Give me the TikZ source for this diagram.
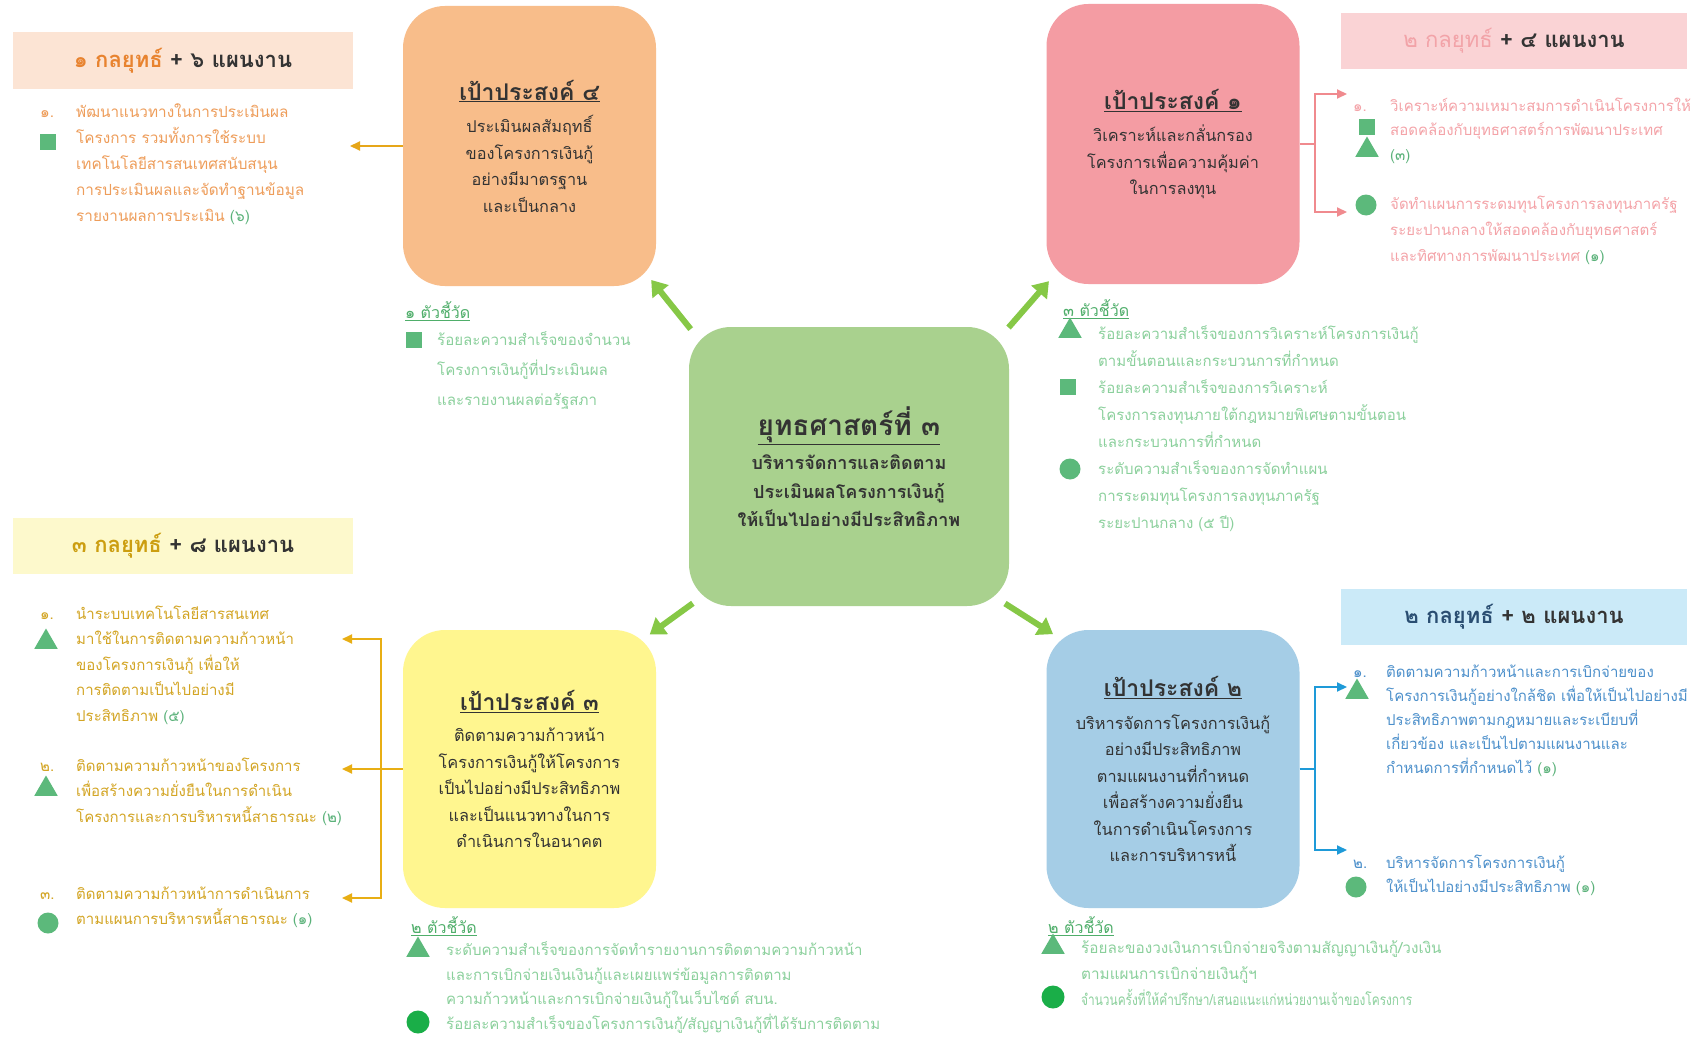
\documentclass[tikz,border=0pt]{standalone}
\usepackage{fontspec}
\setmainfont[Script=Thai]{Loma}
\usetikzlibrary{arrows.meta,shapes.geometric}
\newcommand{\fsz}[2]{\fontsize{#1}{#2}\selectfont}
\newcommand{\gtitle}[1]{{\bfseries\fsz{23}{26}\underline{#1}}}
\definecolor{boxO}{HTML}{F8BD8A}
\definecolor{boxG}{HTML}{A9D18E}
\definecolor{boxP}{HTML}{F49CA3}
\definecolor{boxY}{HTML}{FFF68F}
\definecolor{boxB}{HTML}{A5CDE6}
\definecolor{bandO}{HTML}{FCE4D4}
\definecolor{bandP}{HTML}{FAD3D5}
\definecolor{bandY}{HTML}{FDF9CC}
\definecolor{bandB}{HTML}{CBEAF8}
\definecolor{txtD}{HTML}{333333}
\definecolor{hO}{HTML}{E8832F}
\definecolor{hP}{HTML}{F2A3A8}
\definecolor{hY}{HTML}{CC9E10}
\definecolor{hB}{HTML}{2A4E72}
\definecolor{lO}{HTML}{EE9D5A}
\definecolor{lP}{HTML}{F4A3A8}
\definecolor{lY}{HTML}{D3A524}
\definecolor{lB}{HTML}{4D90CB}
\definecolor{lG}{HTML}{8BD09C}
\definecolor{iG}{HTML}{4FAE6A}
\definecolor{numG}{HTML}{5BB27A}
\definecolor{shpG}{HTML}{5CB97B}
\definecolor{brG}{HTML}{1AAE48}
\definecolor{arrG}{HTML}{86C846}
\definecolor{cO}{HTML}{E6A619}
\definecolor{cY}{HTML}{E8AE14}
\definecolor{cP}{HTML}{F08A8E}
\definecolor{cB}{HTML}{1E9AD8}
\begin{document}
\begin{tikzpicture}[x=1pt,y=-1pt,
  goal/.style={rounded corners=42pt, minimum width=253pt, minimum height=280pt, align=center, text=txtD, font=\fsz{16.3}{26.5}, inner sep=0pt},
  band/.style={minimum width=340pt, minimum height=57pt, inner sep=0pt, font=\bfseries\fsz{22}{26}, text=txtD},
  lst/.style={anchor=north west, inner sep=0pt, align=left},
  ihead/.style={anchor=west, inner sep=0pt, text=iG, font=\fsz{16}{20}},
  sq/.style={rectangle, fill=shpG, minimum size=16pt, inner sep=0pt},
  tri/.style={regular polygon, regular polygon sides=3, fill=shpG, minimum size=27pt, inner sep=0pt},
  dot/.style={circle, fill=shpG, minimum size=21pt, inner sep=0pt},
  bdot/.style={circle, fill=brG, minimum size=23pt, inner sep=0pt},
  garrow/.style={draw=arrG, line width=6pt, -{Triangle[length=15pt,width=20pt]}},
  thinline/.style={line width=2pt},
  thinarr/.style={line width=2pt, -{Triangle[length=10pt,width=9pt]}}
]
\fill[white] (0,0) rectangle (1698,1041);
\useasboundingbox (0,0) rectangle (1698,1041);

% ---------- goal boxes ----------
\node[goal, fill=boxO] (gO) at (529.5,146) {\gtitle{เป้าประสงค์ ๔}\\[6pt]ประเมินผลสัมฤทธิ์\\ของโครงการเงินกู้\\อย่างมีมาตรฐาน\\และเป็นกลาง};
\node[goal, fill=boxP] (gP) at (1173,144) {\gtitle{เป้าประสงค์ ๑}\\[6pt]วิเคราะห์และกลั่นกรอง\\โครงการเพื่อความคุ้มค่า\\ในการลงทุน};
\node[goal, fill=boxG, minimum width=320pt, minimum height=279pt, font=\bfseries\fsz{18}{28.5}] (gC) at (849,466.5) {{\fsz{28}{32}\underline{ยุทธศาสตร์ที่ ๓}}\\[6pt]บริหารจัดการและติดตาม\\ประเมินผลโครงการเงินกู้\\ให้เป็นไปอย่างมีประสิทธิภาพ};
\node[goal, fill=boxY, minimum height=278pt] (gY) at (529.5,769) {\gtitle{เป้าประสงค์ ๓}\\[5pt]ติดตามความก้าวหน้า\\โครงการเงินกู้ให้โครงการ\\เป็นไปอย่างมีประสิทธิภาพ\\และเป็นแนวทางในการ\\ดำเนินการในอนาคต};
\node[goal, fill=boxB, minimum height=278pt] (gB) at (1173,769) {\gtitle{เป้าประสงค์ ๒}\\[6pt]บริหารจัดการโครงการเงินกู้\\อย่างมีประสิทธิภาพ\\ตามแผนงานที่กำหนด\\เพื่อสร้างความยั่งยืน\\ในการดำเนินโครงการ\\และการบริหารหนี้};

% ---------- green arrows ----------
\draw[garrow, shorten <=-3pt, shorten >=-8pt] (gC.north west) -- (gO.south east);
\draw[garrow, shorten <=-1pt, shorten >=-4pt] (gC.north east) -- (gP.south west);
\draw[garrow, shorten <=-5pt, shorten >=-8pt] (gC.south west) -- (gY.north east);
\draw[garrow, shorten <=-5pt, shorten >=-8pt] (gC.south east) -- (gB.north west);

% ---------- header bands ----------
\node[band, fill=bandO] (hO) at (183,60.5) {\textcolor{hO}{๑ กลยุทธ์} + ๖ แผนงาน};
\node[band, fill=bandP, minimum width=346pt, minimum height=56pt] (hP) at (1514,41) {\textcolor{hP}{\mdseries ๒ กลยุทธ์} + ๔ แผนงาน};
\node[band, fill=bandY, minimum height=56pt] (hY) at (183,546) {\textcolor{hY}{๓ กลยุทธ์} + ๘ แผนงาน};
\node[band, fill=bandB, minimum width=346pt, minimum height=56pt] (hB) at (1514,617) {\textcolor{hB}{๒ กลยุทธ์} + ๒ แผนงาน};

% ---------- orange side ----------
\node[lst, text=lO, font=\fsz{15.3}{26}] (oN1) at (40,99) {\strut ๑.};
\node[lst, text=lO, font=\fsz{15.3}{26}] (oL1) at (76,99) {\strut พัฒนาแนวทางในการประเมินผล\\โครงการ รวมทั้งการใช้ระบบ\\เทคโนโลยีสารสนเทศสนับสนุน\\การประเมินผลและจัดทำฐานข้อมูล\\รายงานผลการประเมิน \textcolor{numG}{(๖)}};
\node[sq] (oS1) at (48,142) {};
\coordinate (oE) at (350,146);
\draw[thinarr, draw=cO] (gO.west) -- (oE);

\node[ihead] (oIH) at (405,311) {\underline{๑ ตัวชี้วัด}};
\node[lst, text=lG, font=\fsz{15.1}{30}] (oI) at (437,324) {\strut ร้อยละความสำเร็จของจำนวน\\โครงการเงินกู้ที่ประเมินผล\\และรายงานผลต่อรัฐสภา};
\node[sq] (oIS) at (414,340) {};

% ---------- pink side ----------
\coordinate (pJ) at (1315,144);
\coordinate (pE1) at (1347,94);
\coordinate (pE2) at (1347,212);
\draw[thinline, draw=cP] (gP.east) -- (pJ);
\draw[thinarr, draw=cP] (pJ) |- (pE1);
\draw[thinarr, draw=cP] (pJ) |- (pE2);
\node[lst, text=lP, font=\fsz{15}{24.5}] (pN1) at (1353,94) {\strut ๑.};
\node[lst, text=lP, font=\fsz{15}{24.5}] (pL1) at (1390,94) {\strut วิเคราะห์ความเหมาะสมการดำเนินโครงการให้\\สอดคล้องกับยุทธศาสตร์การพัฒนาประเทศ\\\textcolor{numG}{(๓)}};
\node[sq] (pS1) at (1367,127) {};
\node[tri] (pT1) at (1367,150) {};
\node[lst, text=lP, font=\fsz{15}{26}] (pL2) at (1390,191) {\strut จัดทำแผนการระดมทุนโครงการลงทุนภาครัฐ\\ระยะปานกลางให้สอดคล้องกับยุทธศาสตร์\\และทิศทางการพัฒนาประเทศ \textcolor{numG}{(๑)}};
\node[dot] (pD2) at (1366,205) {};

\node[ihead] (pIH) at (1063,309) {\underline{๓ ตัวชี้วัด}};
\node[lst, text=lG, font=\fsz{15}{27}] (pI) at (1098,320) {\strut ร้อยละความสำเร็จของการวิเคราะห์โครงการเงินกู้\\ตามขั้นตอนและกระบวนการที่กำหนด\\ร้อยละความสำเร็จของการวิเคราะห์\\โครงการลงทุนภายใต้กฎหมายพิเศษตามขั้นตอน\\และกระบวนการที่กำหนด\\ระดับความสำเร็จของการจัดทำแผน\\การระดมทุนโครงการลงทุนภาครัฐ\\ระยะปานกลาง (๕ ปี)};
\node[tri] (pIT) at (1070,331) {};
\node[sq] (pIS) at (1068,387) {};
\node[dot] (pID) at (1070,469) {};

% ---------- yellow side ----------
\coordinate (yJ) at (381,769);
\coordinate (yE1) at (342,639);
\coordinate (yE2) at (342,769);
\coordinate (yE3) at (342,898);
\draw[thinline, draw=cY] (gY.west) -- (yJ);
\draw[thinarr, draw=cY] (yJ) |- (yE1);
\draw[thinarr, draw=cY] (yJ) -- (yE2);
\draw[thinarr, draw=cY] (yJ) |- (yE3);
\node[lst, text=lY, font=\fsz{15}{25.5}] (yN1) at (40,601) {\strut ๑.};
\node[lst, text=lY, font=\fsz{15}{25.5}] (yL1) at (76,601) {\strut นำระบบเทคโนโลยีสารสนเทศ\\มาใช้ในการติดตามความก้าวหน้า\\ของโครงการเงินกู้ เพื่อให้\\การติดตามเป็นไปอย่างมี\\ประสิทธิภาพ \textcolor{numG}{(๕)}};
\node[tri] (yT1) at (46,642) {};
\node[lst, text=lY, font=\fsz{15}{25.5}] (yN2) at (40,753) {\strut ๒.};
\node[lst, text=lY, font=\fsz{15}{25.5}] (yL2) at (76,753) {\strut ติดตามความก้าวหน้าของโครงการ\\เพื่อสร้างความยั่งยืนในการดำเนิน\\โครงการและการบริหารหนี้สาธารณะ \textcolor{numG}{(๒)}};
\node[tri] (yT2) at (46,789) {};
\node[lst, text=lY, font=\fsz{15}{25.5}] (yN3) at (40,881) {\strut ๓.};
\node[lst, text=lY, font=\fsz{15}{25.5}] (yL3) at (76,881) {\strut ติดตามความก้าวหน้าการดำเนินการ\\ตามแผนการบริหารหนี้สาธารณะ \textcolor{numG}{(๑)}};
\node[dot] (yD3) at (48,923) {};

\node[ihead] (yIH) at (411,926) {\underline{๒ ตัวชี้วัด}};
\node[lst, text=lG, font=\fsz{15}{24.6}] (yI) at (446,938) {\strut ระดับความสำเร็จของการจัดทำรายงานการติดตามความก้าวหน้า\\และการเบิกจ่ายเงินเงินกู้และเผยแพร่ข้อมูลการติดตาม\\ความก้าวหน้าและการเบิกจ่ายเงินกู้ในเว็บไซต์ สบน.\\ร้อยละความสำเร็จของโครงการเงินกู้/สัญญาเงินกู้ที่ได้รับการติดตาม};
\node[tri] (yIT) at (418,950) {};
\node[bdot] (yID) at (418,1022) {};

% ---------- blue side ----------
\coordinate (bJ) at (1315,769);
\coordinate (bE1) at (1347,687);
\coordinate (bE2) at (1347,850);
\draw[thinline, draw=cB] (gB.east) -- (bJ);
\draw[thinarr, draw=cB] (bJ) |- (bE1);
\draw[thinarr, draw=cB] (bJ) |- (bE2);
\node[lst, text=lB, font=\fsz{15}{24}] (bN1) at (1353,660) {\strut ๑.};
\node[lst, text=lB, font=\fsz{15}{24}] (bL1) at (1386,660) {\strut ติดตามความก้าวหน้าและการเบิกจ่ายของ\\โครงการเงินกู้อย่างใกล้ชิด เพื่อให้เป็นไปอย่างมี\\ประสิทธิภาพตามกฎหมายและระเบียบที่\\เกี่ยวข้อง และเป็นไปตามแผนงานและ\\กำหนดการที่กำหนดไว้ \textcolor{numG}{(๑)}};
\node[tri] (bT1) at (1357,692) {};
\node[lst, text=lB, font=\fsz{15}{24}] (bN2) at (1353,851) {\strut ๒.};
\node[lst, text=lB, font=\fsz{15}{24}] (bL2) at (1386,851) {\strut บริหารจัดการโครงการเงินกู้\\ให้เป็นไปอย่างมีประสิทธิภาพ \textcolor{numG}{(๑)}};
\node[dot] (bD2) at (1356,887) {};

\node[ihead] (bIH) at (1048,926) {\underline{๒ ตัวชี้วัด}};
\node[lst, text=lG, font=\fsz{15.3}{26}] (bI) at (1081,935) {\strut ร้อยละของวงเงินการเบิกจ่ายจริงตามสัญญาเงินกู้/วงเงิน\\ตามแผนการเบิกจ่ายเงินกู้ฯ\\\scalebox{0.776}[1]{จำนวนครั้งที่ให้คำปรึกษา/เสนอแนะแก่หน่วยงานเจ้าของโครงการ}};
\node[tri] (bIT) at (1053,947) {};
\node[bdot] (bID) at (1053,997) {};
\end{tikzpicture}
\end{document}
